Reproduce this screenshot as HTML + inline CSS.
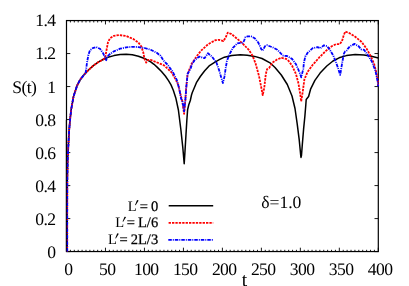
<!DOCTYPE html>
<html><head><meta charset="utf-8"><style>
html,body{margin:0;padding:0;background:#fff;}
svg{display:block;will-change:transform}
text{font-family:"Liberation Serif",serif;fill:#000;text-rendering:geometricPrecision}
</style></head><body>
<svg width="409" height="286" viewBox="0 0 409 286">
<rect width="409" height="286" fill="#fff"/>
<text x="55.50" y="257.70" text-anchor="end" font-size="17.60px" letter-spacing="-0.60">0</text>
<text x="55.50" y="225.29" text-anchor="end" font-size="17.60px" letter-spacing="-0.60">0.2</text>
<text x="55.50" y="192.29" text-anchor="end" font-size="17.60px" letter-spacing="-0.60">0.4</text>
<text x="55.50" y="159.08" text-anchor="end" font-size="17.60px" letter-spacing="-0.60">0.6</text>
<text x="55.50" y="126.07" text-anchor="end" font-size="17.60px" letter-spacing="-0.60">0.8</text>
<text x="55.50" y="93.46" text-anchor="end" font-size="17.60px" letter-spacing="-0.60">1</text>
<text x="55.50" y="59.46" text-anchor="end" font-size="17.60px" letter-spacing="-0.60">1.2</text>
<text x="55.50" y="26.45" text-anchor="end" font-size="17.60px" letter-spacing="-0.60">1.4</text>
<text x="68.30" y="274.90" text-anchor="middle" font-size="17.60px" letter-spacing="-0.60">0</text>
<text x="107.27" y="274.90" text-anchor="middle" font-size="17.60px" letter-spacing="-0.60">50</text>
<text x="146.25" y="274.90" text-anchor="middle" font-size="17.60px" letter-spacing="-0.60">100</text>
<text x="185.22" y="274.90" text-anchor="middle" font-size="17.60px" letter-spacing="-0.60">150</text>
<text x="224.20" y="274.90" text-anchor="middle" font-size="17.60px" letter-spacing="-0.60">200</text>
<text x="263.18" y="274.90" text-anchor="middle" font-size="17.60px" letter-spacing="-0.60">250</text>
<text x="302.15" y="274.90" text-anchor="middle" font-size="17.60px" letter-spacing="-0.60">300</text>
<text x="341.12" y="274.90" text-anchor="middle" font-size="17.60px" letter-spacing="-0.60">350</text>
<text x="380.10" y="274.90" text-anchor="middle" font-size="17.60px" letter-spacing="-0.60">400</text>

<text x="12.2" y="93.2" font-size="17.6px" letter-spacing="-0.55">S(t)</text>
<text x="241.8" y="285.8" font-size="19.5px">t</text>
<text x="261.2" y="208.1" font-size="17.6px" letter-spacing="0">δ=1.0</text>
<text x="127.75" y="210.60" font-size="14.5px">L</text><path d="M137.05 200.05l1.55 0.45l-2.9 4.75l-0.65-0.25z" fill="#000"/><text x="158.15" y="210.60" font-size="14.5px" text-anchor="end" word-spacing="-0.6" stroke="#000" stroke-width="0.25">= 0</text>
<text x="115.25" y="227.20" font-size="14.5px">L</text><path d="M124.55 216.65l1.55 0.45l-2.9 4.75l-0.65-0.25z" fill="#000"/><text x="158.15" y="227.20" font-size="14.5px" text-anchor="end" word-spacing="-0.6" stroke="#000" stroke-width="0.25">= L/6</text>
<text x="107.95" y="243.90" font-size="14.5px">L</text><path d="M117.25 233.35l1.55 0.45l-2.9 4.75l-0.65-0.25z" fill="#000"/><text x="158.15" y="243.90" font-size="14.5px" text-anchor="end" word-spacing="-0.6" stroke="#000" stroke-width="0.25">= 2L/3</text>

<path d="M66.50 251.60v-3.9 M66.50 20.55v3.9 M70.40 251.60v-1.8 M70.40 20.55v1.9 M74.30 251.60v-1.8 M74.30 20.55v1.9 M78.19 251.60v-1.8 M78.19 20.55v1.9 M82.09 251.60v-1.8 M82.09 20.55v1.9 M85.99 251.60v-1.8 M85.99 20.55v1.9 M89.89 251.60v-1.8 M89.89 20.55v1.9 M93.78 251.60v-1.8 M93.78 20.55v1.9 M97.68 251.60v-1.8 M97.68 20.55v1.9 M101.58 251.60v-1.8 M101.58 20.55v1.9 M105.47 251.60v-3.9 M105.47 20.55v3.9 M109.37 251.60v-1.8 M109.37 20.55v1.9 M113.27 251.60v-1.8 M113.27 20.55v1.9 M117.17 251.60v-1.8 M117.17 20.55v1.9 M121.06 251.60v-1.8 M121.06 20.55v1.9 M124.96 251.60v-1.8 M124.96 20.55v1.9 M128.86 251.60v-1.8 M128.86 20.55v1.9 M132.76 251.60v-1.8 M132.76 20.55v1.9 M136.66 251.60v-1.8 M136.66 20.55v1.9 M140.55 251.60v-1.8 M140.55 20.55v1.9 M144.45 251.60v-3.9 M144.45 20.55v3.9 M148.35 251.60v-1.8 M148.35 20.55v1.9 M152.25 251.60v-1.8 M152.25 20.55v1.9 M156.14 251.60v-1.8 M156.14 20.55v1.9 M160.04 251.60v-1.8 M160.04 20.55v1.9 M163.94 251.60v-1.8 M163.94 20.55v1.9 M167.83 251.60v-1.8 M167.83 20.55v1.9 M171.73 251.60v-1.8 M171.73 20.55v1.9 M175.63 251.60v-1.8 M175.63 20.55v1.9 M179.53 251.60v-1.8 M179.53 20.55v1.9 M183.43 251.60v-3.9 M183.43 20.55v3.9 M187.32 251.60v-1.8 M187.32 20.55v1.9 M191.22 251.60v-1.8 M191.22 20.55v1.9 M195.12 251.60v-1.8 M195.12 20.55v1.9 M199.01 251.60v-1.8 M199.01 20.55v1.9 M202.91 251.60v-1.8 M202.91 20.55v1.9 M206.81 251.60v-1.8 M206.81 20.55v1.9 M210.71 251.60v-1.8 M210.71 20.55v1.9 M214.60 251.60v-1.8 M214.60 20.55v1.9 M218.50 251.60v-1.8 M218.50 20.55v1.9 M222.40 251.60v-3.9 M222.40 20.55v3.9 M226.30 251.60v-1.8 M226.30 20.55v1.9 M230.19 251.60v-1.8 M230.19 20.55v1.9 M234.09 251.60v-1.8 M234.09 20.55v1.9 M237.99 251.60v-1.8 M237.99 20.55v1.9 M241.89 251.60v-1.8 M241.89 20.55v1.9 M245.78 251.60v-1.8 M245.78 20.55v1.9 M249.68 251.60v-1.8 M249.68 20.55v1.9 M253.58 251.60v-1.8 M253.58 20.55v1.9 M257.48 251.60v-1.8 M257.48 20.55v1.9 M261.38 251.60v-3.9 M261.38 20.55v3.9 M265.27 251.60v-1.8 M265.27 20.55v1.9 M269.17 251.60v-1.8 M269.17 20.55v1.9 M273.07 251.60v-1.8 M273.07 20.55v1.9 M276.97 251.60v-1.8 M276.97 20.55v1.9 M280.86 251.60v-1.8 M280.86 20.55v1.9 M284.76 251.60v-1.8 M284.76 20.55v1.9 M288.66 251.60v-1.8 M288.66 20.55v1.9 M292.56 251.60v-1.8 M292.56 20.55v1.9 M296.45 251.60v-1.8 M296.45 20.55v1.9 M300.35 251.60v-3.9 M300.35 20.55v3.9 M304.25 251.60v-1.8 M304.25 20.55v1.9 M308.14 251.60v-1.8 M308.14 20.55v1.9 M312.04 251.60v-1.8 M312.04 20.55v1.9 M315.94 251.60v-1.8 M315.94 20.55v1.9 M319.84 251.60v-1.8 M319.84 20.55v1.9 M323.74 251.60v-1.8 M323.74 20.55v1.9 M327.63 251.60v-1.8 M327.63 20.55v1.9 M331.53 251.60v-1.8 M331.53 20.55v1.9 M335.43 251.60v-1.8 M335.43 20.55v1.9 M339.32 251.60v-3.9 M339.32 20.55v3.9 M343.22 251.60v-1.8 M343.22 20.55v1.9 M347.12 251.60v-1.8 M347.12 20.55v1.9 M351.02 251.60v-1.8 M351.02 20.55v1.9 M354.92 251.60v-1.8 M354.92 20.55v1.9 M358.81 251.60v-1.8 M358.81 20.55v1.9 M362.71 251.60v-1.8 M362.71 20.55v1.9 M366.61 251.60v-1.8 M366.61 20.55v1.9 M370.50 251.60v-1.8 M370.50 20.55v1.9 M374.40 251.60v-1.8 M374.40 20.55v1.9 M378.30 251.60v-3.9 M378.30 20.55v3.9 M66.50 251.60h3.8 M378.30 251.60h-3.8 M66.50 218.59h3.8 M378.30 218.59h-3.8 M66.50 185.59h3.8 M378.30 185.59h-3.8 M66.50 152.58h3.8 M378.30 152.58h-3.8 M66.50 119.57h3.8 M378.30 119.57h-3.8 M66.50 86.56h3.8 M378.30 86.56h-3.8 M66.50 53.56h3.8 M378.30 53.56h-3.8 M66.50 20.55h3.8 M378.30 20.55h-3.8" stroke="#000" stroke-width="0.9" fill="none"/>
<rect x="66.5" y="20.55" width="311.8" height="231.0" fill="none" stroke="#000" stroke-width="1.2"/>
<g fill="none" stroke-linejoin="round">
<polyline points="67.2,251.5 67.2,215.0 67.3,180.0 67.7,159.0 68.3,146.7 69.2,129.6 70.3,117.3 71.3,108.8 73.5,96.6 77.1,85.6 79.0,81.8 80.8,78.8 82.6,76.6 84.3,74.5 85.6,73.0 87.5,71.0 93.3,65.6 98.2,62.2 104.0,59.0 108.0,57.2 114.0,55.6 120.1,54.4 126.2,54.2 132.3,54.7 138.4,56.2 144.6,58.5 150.7,61.8 154.0,64.3 157.1,67.1 161.5,71.5 165.5,76.3 168.5,80.6 171.0,84.9 173.3,90.2 175.8,97.9 178.4,110.0 180.8,129.0 182.8,147.5 184.2,163.7 184.9,152.7 186.0,134.3 186.8,121.0 187.6,109.7 188.8,104.8 189.6,102.5 190.3,100.5 191.5,95.0 192.3,92.5 194.0,88.5 196.4,82.7 200.3,76.5 204.7,70.7 209.1,65.9 214.2,62.6 219.3,59.7 224.4,57.2 231.8,55.4 240.3,54.8 247.3,55.2 254.7,56.4 262.0,58.5 270.0,62.8 275.0,67.5 281.3,75.0 287.3,84.5 292.0,96.0 295.0,108.5 297.2,123.8 299.2,139.6 300.7,155.3 301.0,157.4 301.5,155.3 302.3,144.8 303.6,129.1 304.9,116.0 305.8,105.0 306.2,99.5 308.6,96.5 310.7,88.8 314.9,80.4 320.1,73.1 326.8,66.0 333.0,61.0 339.1,57.8 346.4,55.6 355.2,54.6 364.0,55.0 371.3,56.3 378.3,57.9" stroke="#000" stroke-width="1.5"/>
<polyline points="67.2,251.5 67.2,215.0 67.3,180.0 67.7,159.0 68.3,146.7 69.2,129.6 70.3,117.3 71.3,108.8 73.5,96.6 77.1,85.6 79.0,81.8 80.8,78.8 82.6,76.6 84.3,74.5 85.6,73.0 87.5,71.0 93.3,65.6 98.2,62.2 104.0,59.0 105.2,58.0 105.8,54.0 106.8,48.5 108.0,42.2 110.0,38.3 114.0,35.8 118.9,35.1 126.2,36.0 133.6,39.2 138.4,42.6 141.5,46.8 143.3,52.5 144.6,59.3 146.2,62.6 147.6,60.2 150.5,59.8 157.1,62.5 164.0,65.3 168.0,69.0 171.7,72.6 175.9,80.0 178.3,85.0 179.4,90.0 182.2,100.9 184.1,113.8 185.3,100.9 186.2,87.7 186.5,85.0 187.6,74.0 190.5,66.8 191.1,64.6 196.3,56.8 200.7,51.0 208.0,44.3 215.3,40.2 219.0,39.8 223.4,41.1 225.6,37.5 227.8,32.6 231.5,34.1 237.3,38.9 242.5,43.3 246.0,47.0 248.8,49.9 252.4,55.5 255.5,63.2 259.0,76.0 261.6,89.1 262.7,95.2 264.2,88.2 265.8,74.2 267.0,69.3 269.3,67.8 272.1,62.9 277.0,59.5 281.5,57.8 286.0,58.8 288.5,60.8 292.0,65.5 296.0,74.1 298.5,83.6 300.2,94.0 301.2,101.4 302.7,92.0 304.4,79.4 307.5,72.0 312.8,64.7 319.5,57.2 325.9,50.9 331.7,46.3 336.1,44.1 339.8,44.1 342.0,41.1 343.5,36.0 345.2,31.6 349.3,33.1 355.2,36.7 361.6,42.0 366.6,48.7 370.8,56.3 374.1,63.8 376.7,73.9 377.8,80.6 378.2,86.0" stroke="#f00" stroke-width="1.8" stroke-dasharray="2.35 1.05"/>
<polyline points="67.2,251.5 67.2,215.0 67.3,180.0 67.7,159.0 68.3,146.7 69.2,129.6 70.3,117.3 71.3,108.8 73.5,96.6 77.1,85.6 79.0,81.8 80.8,78.8 82.6,76.6 84.3,74.5 85.6,73.0 86.3,68.0 87.0,62.7 88.4,54.9 89.9,50.5 92.7,48.1 96.2,47.1 100.0,48.8 103.1,53.2 105.0,57.5 106.2,60.2 107.4,56.3 110.5,53.6 114.0,51.3 120.1,48.7 126.2,47.3 132.3,46.8 138.4,47.1 144.6,48.0 150.7,49.8 156.8,52.8 160.5,55.8 163.5,60.5 167.4,64.5 172.5,71.4 176.8,80.0 179.4,89.4 181.1,98.8 182.4,101.0 184.1,111.3 185.3,100.9 186.3,87.0 187.6,74.0 190.5,68.8 192.2,63.7 194.8,60.0 199.2,56.6 204.5,58.2 207.9,53.3 212.0,56.6 216.5,62.8 218.9,69.6 221.4,78.1 222.9,83.0 224.4,76.9 225.7,68.3 226.9,61.0 229.3,54.6 232.9,47.9 237.3,43.3 242.5,42.8 244.0,41.0 245.4,37.2 247.5,36.3 251.0,36.3 254.7,38.2 258.3,42.6 261.3,49.2 262.7,50.7 264.9,46.3 267.1,45.2 272.3,47.2 277.3,49.7 281.0,53.6 283.2,55.7 287.0,56.0 292.0,58.9 296.0,64.3 298.5,70.0 300.2,74.1 301.2,77.3 303.3,68.9 303.9,62.9 305.3,56.5 307.8,52.6 312.7,48.2 317.6,47.2 320.5,48.2 323.9,45.3 327.3,46.2 330.3,50.6 333.2,55.5 335.7,61.4 337.5,66.5 340.2,74.9 342.3,62.1 343.9,53.7 345.0,51.6 346.8,50.5 348.0,48.6 349.9,46.3 354.5,43.9 358.5,46.2 361.3,49.4 364.2,49.9 367.5,54.6 371.6,61.0 375.5,71.0 377.8,82.3 378.2,86.4" stroke="#00f" stroke-width="1.8" stroke-dasharray="3.5 1.0 1.0 1.0"/>
<path d="M66.3 120V251.6" stroke="#000" stroke-width="0.8"/>
<path d="M168.7 205.7H213.2" stroke="#000" stroke-width="1.5"/>
<path d="M168.6 222.8H213.2" stroke="#f00" stroke-width="1.8" stroke-dasharray="2.35 1.05"/>
<path d="M168.3 239.9H213.3" stroke="#00f" stroke-width="1.8" stroke-dasharray="3.5 1.0 1.0 1.0"/>
</g>
</svg>
</body></html>
